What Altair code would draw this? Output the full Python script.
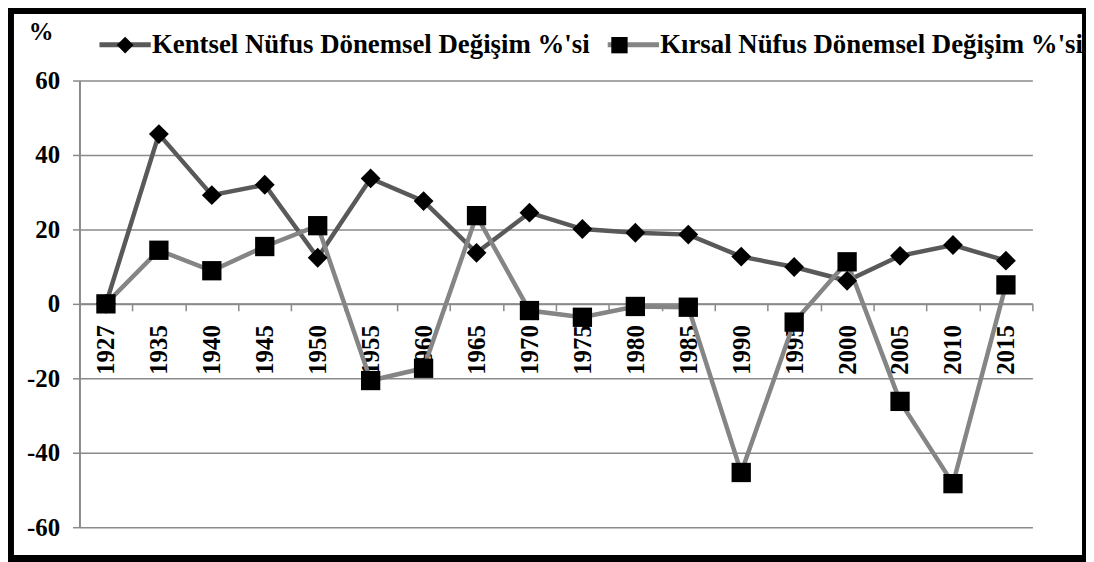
import altair as alt
import pandas as pd

years = ["1927", "1935", "1940", "1945", "1950", "1955", "1960", "1965", "1970",
         "1975", "1980", "1985", "1990", "1995", "2000", "2005", "2010", "2015"]
kentsel = [0, 45.6, 29.2, 32.0, 12.4, 33.7, 27.6, 13.7, 24.5,
           20.1, 19.1, 18.6, 12.7, 9.9, 6.2, 12.9, 15.8, 11.6]
kirsal = [0, 14.4, 8.9, 15.4, 21.0, -20.6, -17.3, 23.7, -1.8,
          -3.6, -0.7, -0.9, -45.3, -4.9, 11.3, -26.2, -48.3, 5.1]
series_names = ["Kentsel Nüfus Dönemsel Değişim %'si", "Kırsal Nüfus Dönemsel Değişim %'si"]
line_colors = ["#595959", "#858585"]
y_ticks = [-60, -40, -20, 0, 20, 40, 60]

ZW = "\u200b"  # zero-width tag so the marker legend stays separate from the line legend
shape_names = [s + ZW for s in series_names]

rows = []
for s, s2, vals in zip(series_names, shape_names, [kentsel, kirsal]):
    for yr, v in zip(years, vals):
        rows.append({"year": yr, "value": v, "series": s, "series_s": s2})
df = pd.DataFrame(rows)

FONT = "Liberation Serif, Times New Roman, serif"
GRID = "#8a8a8a"
W, H = 960, 450
LINE_SYM = "M-1.1,0H1.1"
DIAMOND = "M0,-0.36L0.36,0L0,0.36L-0.36,0Z"
SQUARE = "M-0.35,-0.35H0.35V0.35H-0.35Z"
LEG_X, LEG_Y = 20, -62
SYM_SIZE = 2209
LEG_FS = 27
LABEL1_W = 437   # rendered width of the first legend label
COL_PAD = 8

x_enc = alt.X(
    "year:O", sort=years,
    scale=alt.Scale(type="band", paddingInner=0, paddingOuter=0),
    axis=alt.Axis(title=None, labelAngle=270, offset=-225, tickBand="extent",
                  domainColor=GRID, domainWidth=2, tickColor=GRID, tickWidth=1.5,
                  tickSize=7, labelPadding=14, labelFont=FONT, labelFontSize=25,
                  labelFontWeight="bold", labelColor="black", grid=False),
)
y_enc = alt.Y(
    "value:Q",
    scale=alt.Scale(domain=[-60, 60], nice=False),
    axis=alt.Axis(values=y_ticks, labelExpr="'' + datum.value",
                  title="%", titleAngle=0, titleX=-39, titleY=-41,
                  titleAlign="center", titleBaseline="alphabetic", titleFont=FONT,
                  titleFontSize=25, titleFontWeight="bold", titleColor="black",
                  labelFont=FONT, labelFontSize=25, labelFontWeight="bold",
                  labelColor="black", labelPadding=13, tickSize=7, tickColor=GRID,
                  tickWidth=1.5, domainColor=GRID, domainWidth=2, grid=True,
                  gridColor=GRID, gridWidth=1.5),
)

base = alt.Chart(df)

lines = base.mark_line(strokeWidth=4.5).encode(
    x=x_enc, y=y_enc,
    color=alt.Color("series:N",
                    scale=alt.Scale(domain=series_names, range=line_colors),
                    legend=alt.Legend(orient="none", legendX=LEG_X, legendY=LEG_Y,
                                      direction="horizontal", title=None,
                                      symbolType=LINE_SYM, symbolSize=SYM_SIZE,
                                      symbolStrokeWidth=5, labelFont=FONT,
                                      labelFontSize=LEG_FS, labelFontWeight="bold",
                                      labelColor="black", labelLimit=0, labelOffset=1,
                                      columnPadding=COL_PAD, padding=0, zindex=1)),
)

points = base.mark_point(filled=True, color="black", opacity=1, size=3086,
                         strokeWidth=0).encode(
    x=x_enc, y=y_enc,
    shape=alt.Shape("series_s:N",
                    scale=alt.Scale(domain=shape_names, range=[DIAMOND, SQUARE]),
                    legend=alt.Legend(orient="none", legendX=LEG_X, legendY=LEG_Y,
                                      direction="horizontal", title=None,
                                      symbolSize=SYM_SIZE, symbolFillColor="black",
                                      symbolStrokeColor="transparent",
                                      symbolStrokeWidth=5, labelExpr="''",
                                      labelFont=FONT, labelFontSize=LEG_FS,
                                      labelLimit=0, labelOffset=1,
                                      columnPadding=COL_PAD + LABEL1_W,
                                      padding=0, zindex=2)),
)

frame = alt.Chart(alt.Data(values=[{"a": 1}])).mark_rect(
    fill="transparent", stroke="black", strokeWidth=8
).encode(x=alt.value(-70), x2=alt.value(1014), y=alt.value(-71), y2=alt.value(482))

chart = alt.layer(lines, points, frame).properties(
    width=W, height=H,
    autosize=alt.AutoSizeParams(type="none"),
    padding={"left": 72, "top": 71, "right": 54, "bottom": 33},
    background="white",
).configure_view(strokeWidth=0)

chart.save("out.html", embed_options={"renderer": "svg", "actions": False})
